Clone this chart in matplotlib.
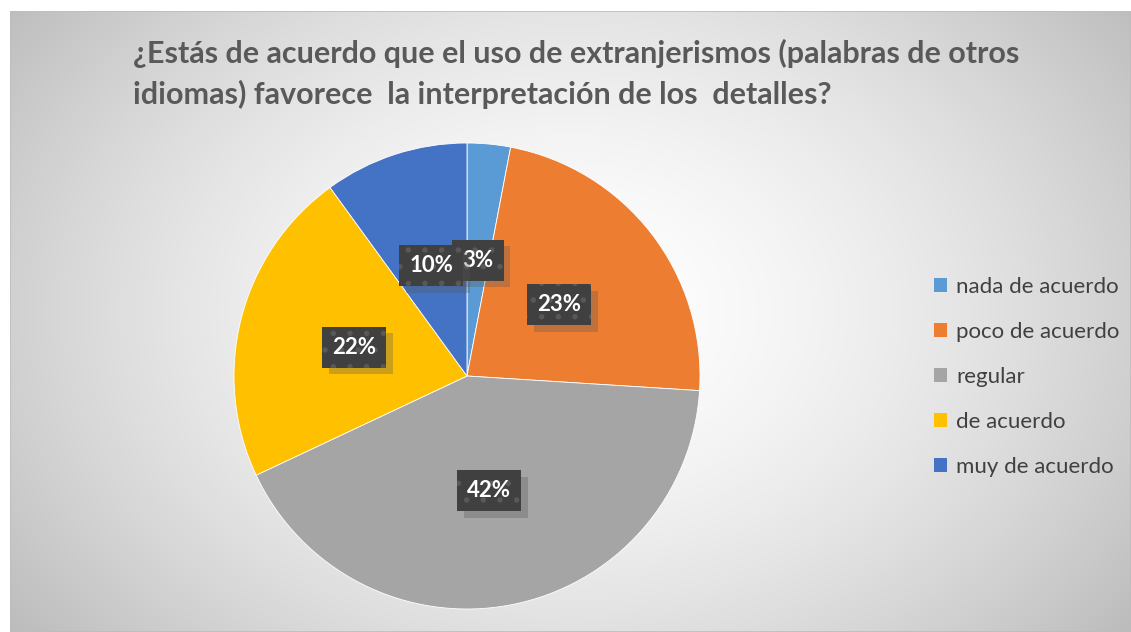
import numpy as np
import matplotlib.pyplot as plt
import matplotlib.colors as mcolors
from matplotlib.patches import Rectangle, Patch
import matplotlib.patheffects as pe

# datos del gráfico
categorias = ['nada de acuerdo', 'poco de acuerdo', 'regular', 'de acuerdo', 'muy de acuerdo']
valores = [3, 23, 42, 22, 10]
colores = ['#5B9BD5', '#ED7D31', '#A5A5A5', '#FFC000', '#4472C4']
titulo = '¿Estás de acuerdo que el uso de extranjerismos (palabras de otros\nidiomas) favorece  la interpretación de los  detalles?'

plt.rcParams['font.family'] = ['Lato', 'DejaVu Sans']
plt.rcParams['hatch.linewidth'] = 1.5


class Sombra(pe.AbstractPathEffect):
    # sombra sin trama para las cajas de etiqueta
    def __init__(self, offset=(5, -5), color='#555555', alpha=0.3):
        super().__init__(offset)
        self._color = color
        self._alpha = alpha

    def draw_path(self, renderer, gc, tpath, affine, rgbFace):
        gc0 = renderer.new_gc()
        gc0.copy_properties(gc)
        gc0.set_hatch(None)
        gc0.set_linewidth(0)
        gc0.set_alpha(self._alpha)
        renderer.draw_path(gc0, tpath, affine + self._offset_transform(renderer),
                           mcolors.to_rgba(self._color))
        gc0.restore()


W, H = 1131, 632
fig = plt.figure(figsize=(W / 100, H / 100), dpi=100)
fig.patch.set_facecolor('white')

# fondo con degradado radial
bg = fig.add_axes([10 / W, 0, (W - 10) / W, (H - 11) / H])
yy, xx = np.mgrid[0:621, 0:1121]
cx, cy = 560, 300
d = np.sqrt(((xx - cx) / 700.0) ** 2 + ((yy - cy) / 520.0) ** 2)
g = 1.0 - 0.26 * np.clip(d, 0, 1.2) ** 1.6
bg.imshow(np.dstack([g, g, g]), aspect='auto', extent=[0, 1, 0, 1], origin='upper')
bg.add_patch(Rectangle((0, 0), 1, 1, transform=bg.transAxes, fill=False,
                       ec='#bdbdbd', lw=1.2))
bg.set_axis_off()

# gráfico circular
cxp, cyp, r = 467, 376, 233
ax = fig.add_axes([(cxp - r) / W, (H - cyp - r) / H, 2 * r / W, 2 * r / H])
wedges, texts, autotexts = ax.pie(valores, colors=colores, startangle=90, counterclock=False,
                                  autopct='%1.0f%%', pctdistance=0.5,
                                  wedgeprops=dict(edgecolor='white', linewidth=0.6),
                                  textprops=dict(color='white', fontsize=16, fontweight='bold'))
ax.set_xlim(-1, 1)
ax.set_ylim(-1, 1)

orden = [10, 14, 16, 12, 18]  # 10% queda encima de 3%
for i, t in enumerate(autotexts):
    t.set_zorder(orden[i])
    t.set_bbox(dict(boxstyle='square,pad=0.45', fc='#404040', ec='#585858', lw=0, hatch='.'))
    t.get_bbox_patch().set_path_effects([Sombra(), pe.Normal()])

fig.text(133 / W, (H - 39) / H, titulo, ha='left', va='top', fontsize=22,
         fontweight='bold', color='#595959', linespacing=1.48)

handles = [Patch(facecolor=c, edgecolor='none') for c in colores]
fig.legend(handles, categorias, loc='center left', bbox_to_anchor=(934 / W, (H - 377) / H),
           frameon=False, fontsize=16, labelcolor='#404040', handlelength=0.6,
           handleheight=0.6, handletextpad=0.4, labelspacing=1.12,
           borderpad=0, borderaxespad=0)

fig.savefig('out.png', dpi=100)
